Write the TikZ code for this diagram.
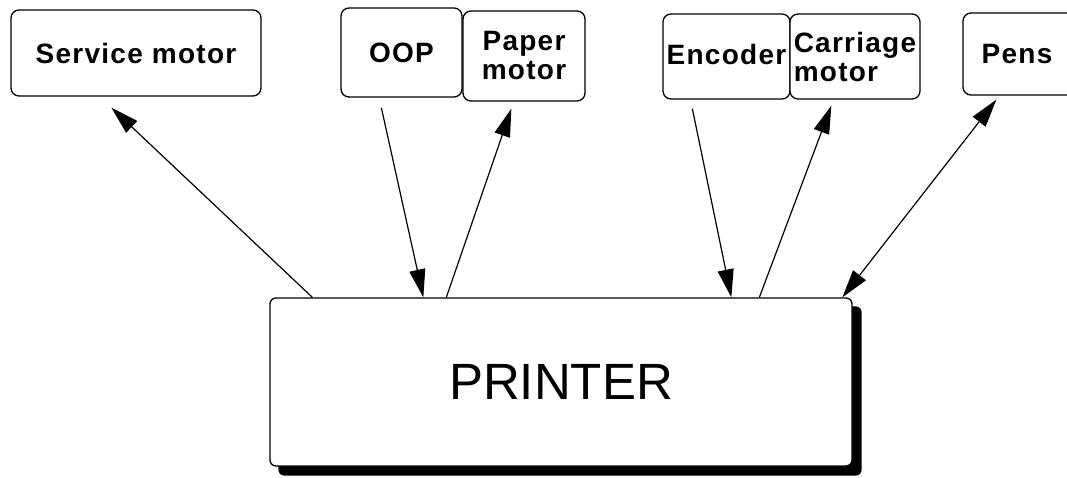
\documentclass[tikz,border=0pt]{standalone}
\usepackage{fontspec}
\setmainfont{Liberation Sans}
\newfontfamily\labfont[LetterSpace=4.5]{Liberation Sans}
\usetikzlibrary{arrows.meta,backgrounds}
\begin{document}
\begin{tikzpicture}[x=1pt,y=-1pt,
  unit/.style={draw, line width=1.3pt, rounded corners=8pt, fill=white, inner sep=0pt,
    font=\labfont\bfseries\fontsize{28}{29}\selectfont},
  mainbox/.style={draw, line width=1.3pt, rounded corners=6pt, fill=white, inner sep=0pt,
    font=\fontsize{51}{53}\selectfont},
  link/.style={line width=1.2pt, -{Triangle[length=28pt,width=16pt]}},
  dlink/.style={line width=1.2pt, {Triangle[length=28pt,width=16pt]}-{Triangle[length=28pt,width=16pt]}}
]
\useasboundingbox (0,0) rectangle (1067,478);

\node[unit, minimum width=250pt, minimum height=86pt] (svc) at (136,53) {Service motor};
\node[unit, minimum width=121pt, minimum height=89pt] (oop) at (401.5,52.5) {OOP};
\node[unit, minimum width=122pt, minimum height=90pt, align=center] (paper) at (524,56) {Paper\\motor};
\node[unit, minimum width=127pt, minimum height=85pt] (enc) at (726.5,56.5) {\raisebox{5pt}{Encoder}};
\node[unit, minimum width=130pt, minimum height=85pt, align=left] (car) at (855,56.5) {Carriage\\motor};
\node[unit, minimum width=112pt, minimum height=82pt] (pens) at (1019,54) {\hspace*{-4pt}Pens};

\node[mainbox, minimum width=582pt, minimum height=168pt] (printer) at (561,382) {PRINTER};
\begin{scope}[on background layer]
  \fill[black, rounded corners=6pt] ([xshift=9pt,yshift=-9pt]printer.north west) rectangle ([xshift=9pt,yshift=-9pt]printer.south east);
\end{scope}

\draw[link] ([xshift=43pt]printer.north west) -- ([xshift=101pt,yshift=-11pt]svc.south west);
\draw[link] ([xshift=41pt,yshift=-10pt]oop.south west) -- ([xshift=154pt]printer.north west);
\draw[link] ([xshift=177pt]printer.north west) -- ([xshift=49pt,yshift=-7pt]paper.south west);
\draw[link] ([xshift=30pt,yshift=-9pt]enc.south west) -- ([xshift=462pt]printer.north west);
\draw[link] ([xshift=490pt]printer.north west) -- ([xshift=42pt,yshift=-6pt]car.south west);
\draw[dlink] ([xshift=34pt,yshift=-4pt]pens.south west) -- ([xshift=573pt]printer.north west);
\end{tikzpicture}
\end{document}
